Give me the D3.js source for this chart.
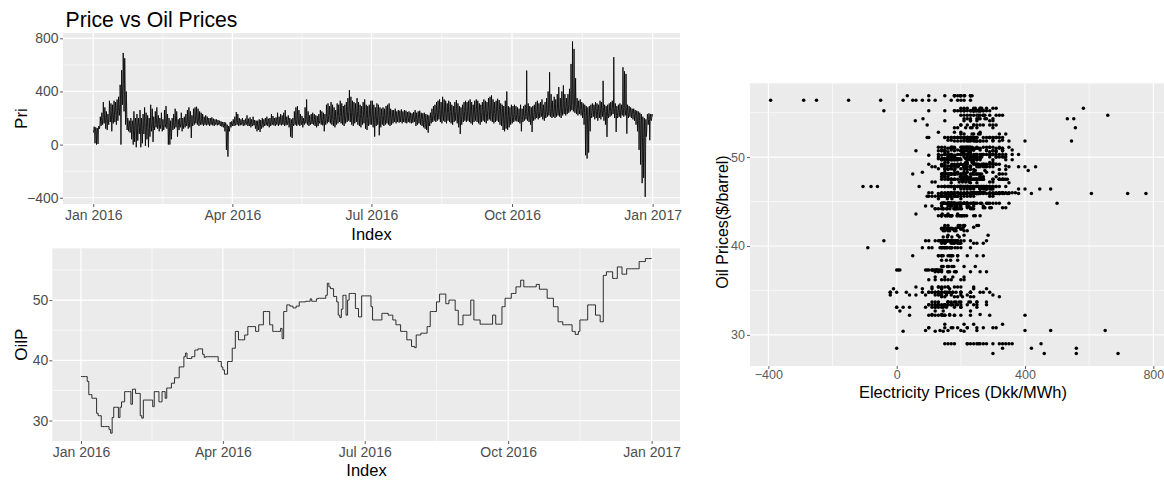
<!DOCTYPE html>
<html>
<head>
<meta charset="utf-8">
<script src="https://cdn.jsdelivr.net/npm/d3@7"></script>
<style>
  body { margin: 0; background: #fff; }
  svg { display: block; font-family: "Liberation Sans", Arial, sans-serif; }
</style>
</head>
<body>
<svg id="chart" width="1164" height="480"></svg>
<script>
// daily electricity price (Dkk/MWh): [night low, morning, peak, evening] per day
var priceJan = [[90,115,135,125],[10,100,130,120],[0,95,125,110],[5,110,140,125],[120,150,210,175],[140,180,240,205],[150,190,320,230],[160,200,280,225],[120,170,250,195],[110,160,230,185],[150,210,330,240],[170,220,310,250],[100,190,300,220],[160,230,330,260],[170,240,320,270],[150,220,340,255],[180,250,360,280],[220,300,450,350],[0,330,560,420],[300,460,690,560],[250,400,650,480],[150,230,400,290],[110,140,200,165],[100,130,180,150],[90,135,200,160],[40,120,180,145],[0,110,250,140],[20,130,200,155],[-20,110,230,140],[30,130,200,155],[80,140,260,165]];
var priceFeb = [[-20,100,200,130],[10,120,230,145],[80,140,280,165],[-10,110,240,140],[40,130,220,155],[-20,90,200,120],[60,140,300,170],[100,150,270,175],[20,120,210,145],[110,150,250,170],[130,160,280,185],[120,150,220,170],[100,140,200,160],[120,150,240,175],[100,130,190,150],[110,140,260,165],[130,160,290,185],[120,150,230,175],[0,100,200,130],[0,90,180,120],[40,120,200,145],[110,140,230,165],[120,150,270,175],[130,160,250,180],[60,130,190,150],[110,140,200,160],[130,160,240,180],[100,140,200,160],[120,150,210,170]];
var priceMar = [[130,160,230,180],[140,165,260,185],[120,160,280,185],[130,170,250,190],[50,140,220,165],[140,170,270,190],[150,180,280,200],[160,190,285,210],[150,180,270,200],[140,170,250,190],[150,175,240,195],[150,170,230,190],[140,160,210,180],[150,165,220,185],[145,160,210,180],[150,160,200,175],[140,155,200,175],[150,160,205,180],[145,158,195,172],[140,152,190,168],[150,158,190,172],[145,155,185,168],[150,155,180,168],[140,150,175,162],[135,145,170,158],[130,145,170,158],[100,135,165,150],[-40,90,150,120],[-90,80,140,110],[100,135,170,150],[130,145,175,160]];
var priceApr = [[140,155,190,168],[140,158,210,172],[145,162,245,178],[150,165,230,182],[140,158,200,172],[145,155,190,168],[150,158,200,172],[140,152,185,166],[145,158,195,172],[150,162,220,178],[140,152,195,168],[140,158,205,172],[130,152,190,166],[140,158,210,172],[145,155,185,166],[120,145,180,158],[100,138,180,152],[110,142,190,158],[95,138,185,152],[120,148,200,162],[130,152,190,168],[140,158,200,172],[145,162,210,178],[140,158,195,172],[130,152,200,168],[140,162,230,178],[150,168,215,182],[145,162,200,178],[140,158,205,172],[150,168,240,182]];
var priceMay = [[140,162,210,178],[150,168,230,182],[145,162,220,178],[150,172,240,188],[140,168,260,182],[145,162,210,178],[150,168,220,182],[130,158,200,172],[60,142,190,160],[50,142,200,160],[140,168,250,182],[150,172,280,190],[140,180,290,200],[150,178,260,192],[140,168,230,182],[150,168,215,182],[130,158,200,172],[150,178,280,192],[160,190,340,210],[150,172,250,188],[140,168,220,182],[150,172,230,188],[155,178,240,192],[150,172,230,188],[140,168,220,182],[130,162,215,178],[140,168,230,182],[160,182,260,198],[150,178,250,192],[145,172,240,188],[100,162,230,178]];
var priceJun = [[150,190,300,210],[160,200,310,220],[170,210,290,230],[160,205,320,225],[150,200,300,220],[140,190,280,210],[130,180,260,200],[150,200,310,220],[160,210,300,230],[170,220,330,240],[160,210,310,230],[150,205,290,225],[140,200,300,220],[160,220,320,240],[170,230,350,250],[180,245,410,275],[170,240,360,260],[150,220,330,240],[140,210,320,230],[160,220,310,240],[170,230,350,250],[150,215,320,235],[140,205,300,225],[130,200,290,220],[150,210,320,230],[160,220,340,240],[120,205,300,225],[110,195,290,215],[140,205,300,225],[150,210,330,230]];
var priceJul = [[150,210,330,230],[130,200,300,220],[60,180,280,200],[140,200,310,220],[150,210,300,230],[70,180,280,200],[130,190,270,210],[150,200,280,220],[140,195,270,215],[150,200,290,220],[160,205,300,225],[150,210,310,230],[140,200,270,220],[150,198,260,212],[160,202,260,218],[170,208,270,222],[160,202,250,218],[170,208,260,222],[165,202,255,218],[170,208,265,222],[160,198,250,212],[170,202,260,218],[165,202,255,218],[160,198,245,212],[170,202,250,218],[165,198,240,212],[160,192,235,208],[165,198,245,212],[170,202,260,218],[140,188,240,202],[150,192,250,208]];
var priceAug = [[160,198,255,212],[150,192,240,208],[140,188,235,202],[130,182,240,198],[120,178,230,192],[110,172,225,188],[90,168,220,182],[140,182,240,198],[160,200,270,220],[170,210,290,230],[180,220,300,240],[170,230,320,250],[180,240,330,260],[190,245,340,265],[170,235,320,255],[160,230,360,250],[180,240,340,260],[170,235,330,255],[160,225,310,245],[180,240,330,260],[170,230,320,250],[160,220,300,240],[150,215,290,235],[170,230,320,250],[180,240,335,260],[160,230,310,250],[130,210,290,230],[80,190,280,210],[150,220,300,240],[170,230,320,250],[180,235,330,255]];
var priceSep = [[170,230,320,250],[180,240,330,260],[170,235,340,255],[160,230,320,250],[150,225,300,245],[170,235,330,255],[180,245,340,265],[170,240,330,260],[160,230,310,250],[150,220,300,240],[170,235,320,255],[180,245,340,265],[170,240,330,260],[160,235,320,255],[180,250,350,270],[190,255,360,275],[180,250,370,270],[170,245,340,265],[160,235,320,255],[170,240,330,260],[180,250,345,270],[170,245,335,265],[150,230,310,250],[140,220,300,240],[110,200,290,220],[100,190,330,210],[120,210,400,230],[110,190,290,210],[130,200,280,220],[150,210,300,230]];
var priceOct = [[160,205,290,225],[170,205,300,225],[180,212,290,228],[175,208,280,222],[170,202,270,218],[160,200,300,220],[100,190,270,210],[170,210,290,230],[180,215,300,235],[190,230,557,250],[180,220,310,240],[170,215,290,235],[150,210,280,230],[95,200,290,220],[180,220,300,240],[190,225,320,245],[200,230,330,250],[190,230,310,250],[200,235,320,255],[210,240,340,260],[190,230,300,250],[180,225,320,245],[200,240,350,260],[210,250,400,270],[220,260,545,280],[210,250,380,270],[200,240,330,260],[210,250,360,270],[200,245,340,265],[210,250,380,270],[220,260,433,280]];
var priceNov = [[210,255,350,275],[200,260,400,280],[220,270,446,290],[230,275,380,295],[220,270,350,290],[230,280,380,300],[240,290,420,310],[250,305,607,335],[260,315,777,345],[250,300,720,320],[240,290,500,310],[230,280,350,300],[220,270,330,290],[230,275,340,295],[220,265,320,285],[200,255,310,275],[150,240,300,260],[-80,190,290,215],[-105,170,280,195],[-60,180,290,200],[100,220,300,240],[200,250,310,270],[210,255,300,275],[190,245,320,265],[200,250,310,270],[180,240,300,260],[200,250,330,270],[190,245,320,265],[210,260,480,280],[180,240,300,260]];
var priceDec = [[150,230,290,250],[58,210,300,230],[200,240,310,260],[210,250,320,270],[220,255,330,275],[230,270,658,290],[200,250,310,270],[95,220,290,240],[200,240,300,260],[210,245,310,265],[200,240,300,260],[220,260,582,280],[210,255,552,275],[220,260,532,280],[82,230,300,250],[200,240,290,260],[210,245,280,262],[200,240,270,258],[190,235,270,255],[180,230,260,248],[150,220,255,240],[100,210,250,230],[-40,180,240,210],[-150,120,230,170],[-290,50,210,100],[-250,20,200,80],[-393,-50,190,60],[100,180,230,200],[150,190,235,210],[33,180,230,200],[180,198,230,212]];

// daily oil price ($/barrel), held over weekends
var oilJan = [37.3,37.3,37.3,37.3,36.5,34.3,34.3,33.7,33.7,33.7,31.2,30.8,30.8,29.0,29.0,29.0,29.0,29.0,28.5,27.9,30.5,32.2,32.2,32.2,30.5,32.2,33.1,33.1,34.8,34.8,34.8];
var oilFeb = [34.8,32.7,35.2,35.2,34.5,34.5,34.5,30.8,30.4,33.4,33.4,33.4,33.4,33.4,33.4,32.3,34.8,34.8,34.8,33.1,33.1,34.8,34.8,33.7,35.4,35.4,35.4,36.2,36.2];
var oilMar = [37.1,37.1,37.1,38.9,38.9,38.9,40.6,41.2,40.3,40.3,40.3,40.6,40.6,41.7,41.7,41.9,41.9,41.9,41.0,40.5,40.6,40.6,40.6,40.6,40.6,40.6,40.6,40.6,39.8,39.8,38.9];
var oilApr = [38.4,37.7,37.7,39.8,39.8,39.8,42.0,42.0,44.8,44.8,43.4,43.4,43.4,43.4,44.2,44.2,45.6,45.6,45.6,45.6,45.6,44.8,44.8,45.9,45.9,45.9,48.1,48.1,48.1,48.1];
var oilMay = [45.9,45.9,44.8,44.8,44.8,44.8,44.8,45.3,43.6,48.1,48.1,49.2,49.2,49.0,49.0,48.7,48.7,49.0,49.0,49.7,49.7,49.7,49.7,49.8,49.8,49.8,50.2,49.8,49.8,49.8,50.2];
var oilJun = [50.3,50.3,50.3,50.3,50.3,50.8,52.8,52.2,51.9,51.9,50.6,50.6,49.7,47.5,47.1,48.5,50.8,50.8,47.5,50.0,51.1,51.1,51.1,51.1,48.6,48.6,47.2,47.2,50.7,50.7];
var oilJul = [50.7,50.7,50.7,50.7,48.9,46.7,46.7,46.7,46.7,46.7,46.7,47.8,47.8,47.8,47.8,47.5,47.5,47.5,46.7,46.7,45.9,45.9,45.9,44.8,44.8,44.8,44.8,43.4,43.4,43.4,42.3];
var oilAug = [42.3,42.1,44.2,44.2,44.2,44.5,44.5,44.5,44.5,45.6,45.6,48.1,48.1,48.1,48.1,49.7,49.7,51.0,51.0,51.0,51.0,49.4,49.4,50.0,50.0,50.0,50.0,48.3,48.3,45.9,45.9];
var oilSep = [45.9,47.5,47.5,47.5,47.5,47.5,50.0,50.0,46.7,46.7,46.7,46.7,46.0,46.0,46.0,46.0,46.0,46.0,46.0,46.0,47.5,47.5,46.0,46.0,46.0,46.0,48.9,48.9,50.3,50.3];
var oilOct = [50.3,50.3,51.1,51.1,51.1,52.2,52.2,52.2,53.3,53.3,52.2,52.2,52.2,52.2,52.2,52.2,52.2,52.2,52.6,52.6,51.8,51.8,51.8,51.8,51.8,50.3,50.3,50.3,50.3,48.9,48.9];
var oilNov = [48.9,46.4,46.4,46.4,45.9,45.9,45.9,45.9,45.9,45.9,44.8,44.8,44.3,44.3,44.8,46.7,46.7,46.7,46.7,46.7,49.2,49.2,49.2,49.2,49.2,47.5,47.5,47.5,46.4,46.4];
var oilDec = [54.1,54.1,54.7,54.7,54.7,54.7,53.6,53.6,53.6,55.5,55.5,55.5,54.3,54.3,54.3,55.2,55.2,55.2,55.2,55.2,55.2,55.2,55.2,56.4,56.4,56.4,56.4,56.9,56.9,56.9,56.9];

var dateTicks = [new Date(2016,0,1), new Date(2016,3,1), new Date(2016,6,1), new Date(2016,9,1), new Date(2017,0,1)];
var priceTicks = [-400, 0, 400, 800];
var priceMinor = [-200, 200, 600];
var oilTicks = [30, 40, 50];
var oilMinor = [35, 45, 55];
var elecTicks = [-400, 0, 400, 800];
var elecMinor = [-200, 200, 600];
var sampleHours = [3, 9, 14, 20];

var priceDays = [].concat(priceJan, priceFeb, priceMar, priceApr, priceMay, priceJun, priceJul, priceAug, priceSep, priceOct, priceNov, priceDec);
var oilDays = [].concat(oilJan, oilFeb, oilMar, oilApr, oilMay, oilJun, oilJul, oilAug, oilSep, oilOct, oilNov, oilDec);

var svg = d3.select("#chart");
var fmt = d3.timeFormat("%b %Y");
function dayDate(i, h) { return new Date(2016, 0, 1 + i, h || 0); }
function shiftDays(d, n) { return new Date(d.getTime() + n * 864e5); }
var start = new Date(2016,0,1), end = new Date(2017,0,1);

var priceSeries = [];
var scatterPts = [];
priceDays.forEach(function(v, i) {
  v.forEach(function(p, k) {
    priceSeries.push({t: dayDate(i, sampleHours[k]), v: p});
    scatterPts.push({p: p, o: oilDays[i]});
  });
});
var oilSeries = oilDays.map(function(o, i) { return {t: dayDate(i), v: o}; });
oilSeries.push({t: dayDate(oilDays.length), v: oilDays[oilDays.length - 1]});

function midDates(ticks) {
  var out = [];
  for (var i = 0; i < ticks.length - 1; i++) out.push(new Date((ticks[i].getTime() + ticks[i+1].getTime()) / 2));
  return out;
}

function drawPanel(g, x, y, xMajor, xMinor, yMajor, yMinor) {
  var x0 = x.range()[0], x1 = x.range()[1], y0 = y.range()[0], y1 = y.range()[1];
  g.append("rect").attr("x", x0).attr("y", y1).attr("width", x1 - x0).attr("height", y0 - y1).attr("fill", "#EBEBEB");
  g.selectAll(".ymin").data(yMinor).join("line")
    .attr("x1", x0).attr("x2", x1).attr("y1", d => y(d)).attr("y2", d => y(d))
    .attr("stroke", "#fff").attr("stroke-width", 0.6);
  g.selectAll(".xmin").data(xMinor).join("line")
    .attr("y1", y0).attr("y2", y1).attr("x1", d => x(d)).attr("x2", d => x(d))
    .attr("stroke", "#fff").attr("stroke-width", 0.6);
  g.selectAll(".ymaj").data(yMajor).join("line")
    .attr("x1", x0).attr("x2", x1).attr("y1", d => y(d)).attr("y2", d => y(d))
    .attr("stroke", "#fff").attr("stroke-width", 1.2);
  g.selectAll(".xmaj").data(xMajor).join("line")
    .attr("y1", y0).attr("y2", y1).attr("x1", d => x(d)).attr("x2", d => x(d))
    .attr("stroke", "#fff").attr("stroke-width", 1.2);
}

function styleAxis(sel, size, color) {
  sel.select(".domain").remove();
  sel.selectAll(".tick line").attr("stroke", "#333").attr("stroke-width", 0.8);
  sel.selectAll(".tick text").attr("fill", color).style("font-size", size + "px")
    .style("font-family", '"Liberation Sans", Arial, sans-serif');
}

// ---- top: price over time
var xTop = d3.scaleTime().domain([shiftDays(start, -19.8), shiftDays(end, 17.9)]).range([63, 680]);
var yTop = d3.scaleLinear().domain([-447, 840]).range([204, 33]);
var gTop = svg.append("g");
drawPanel(gTop, xTop, yTop, dateTicks, midDates(dateTicks), priceTicks, priceMinor);
gTop.append("path").datum(priceSeries)
  .attr("fill", "none").attr("stroke", "#000").attr("stroke-width", 0.85)
  .attr("d", d3.line().x(d => xTop(d.t)).y(d => yTop(d.v)));
gTop.append("g").attr("transform", "translate(0,204)")
  .call(d3.axisBottom(xTop).tickValues(dateTicks).tickFormat(fmt).tickSize(3).tickPadding(3))
  .call(styleAxis, 14, "#4D4D4D");
gTop.append("g").attr("transform", "translate(63,0)")
  .call(d3.axisLeft(yTop).tickValues(priceTicks).tickSize(3).tickPadding(1.5))
  .call(styleAxis, 14, "#4D4D4D");

svg.append("text").attr("x", 65.5).attr("y", 27.3).text("Price vs Oil Prices")
  .style("font-size", "21.2px").attr("fill", "#000");
svg.append("text").attr("transform", "translate(26.5,118.5) rotate(-90)").attr("text-anchor", "middle")
  .text("Pri").style("font-size", "17px");
svg.append("text").attr("x", 371.5).attr("y", 240).attr("text-anchor", "middle")
  .text("Index").style("font-size", "16.5px");

// ---- bottom: oil over time
var xBot = d3.scaleTime().domain([shiftDays(start, -18.4), shiftDays(end, 18.2)]).range([52.3, 680]);
var yBot = d3.scaleLinear().domain([26.6, 58.6]).range([441, 248.3]);
var gBot = svg.append("g");
drawPanel(gBot, xBot, yBot, dateTicks, midDates(dateTicks), oilTicks, oilMinor);
gBot.append("path").datum(oilSeries)
  .attr("fill", "none").attr("stroke", "#1a1a1a").attr("stroke-width", 0.9)
  .attr("d", d3.line().curve(d3.curveStepAfter).x(d => xBot(d.t)).y(d => yBot(d.v)));
gBot.append("g").attr("transform", "translate(0,441)")
  .call(d3.axisBottom(xBot).tickValues(dateTicks).tickFormat(fmt).tickSize(3).tickPadding(3.5))
  .call(styleAxis, 14, "#4D4D4D");
gBot.append("g").attr("transform", "translate(52.3,0)")
  .call(d3.axisLeft(yBot).tickValues(oilTicks).tickSize(3).tickPadding(1))
  .call(styleAxis, 14, "#4D4D4D");
svg.append("text").attr("transform", "translate(26.5,344.6) rotate(-90)").attr("text-anchor", "middle")
  .text("OilP").style("font-size", "17px");
svg.append("text").attr("x", 366.5).attr("y", 476).attr("text-anchor", "middle")
  .text("Index").style("font-size", "16.5px");

// ---- right: scatter of electricity price vs oil price
var xSc = d3.scaleLinear().domain([-457.3, 852]).range([750, 1170]);
var ySc = d3.scaleLinear().domain([26.5, 58.3]).range([366, 83.3]);
var gSc = svg.append("g");
drawPanel(gSc, xSc, ySc, elecTicks, elecMinor, oilTicks, oilMinor);
gSc.selectAll("circle").data(scatterPts).join("circle")
  .attr("cx", d => xSc(d.p)).attr("cy", d => ySc(d.o)).attr("r", 1.75).attr("fill", "#000");
gSc.append("g").attr("transform", "translate(0,366)")
  .call(d3.axisBottom(xSc).tickValues(elecTicks).tickSize(3).tickPadding(1))
  .call(styleAxis, 12.5, "#5a5a5a");
gSc.append("g").attr("transform", "translate(750,0)")
  .call(d3.axisLeft(ySc).tickValues(oilTicks).tickSize(3).tickPadding(2))
  .call(styleAxis, 12.5, "#5a5a5a");
svg.append("text").attr("transform", "translate(728.3,222) rotate(-90)").attr("text-anchor", "middle")
  .text("Oil Prices($/barrel)").style("font-size", "16px");
svg.append("text").attr("x", 963).attr("y", 398.3).attr("text-anchor", "middle")
  .text("Electricity Prices (Dkk/MWh)").style("font-size", "16.5px");
</script>
</body>
</html>
